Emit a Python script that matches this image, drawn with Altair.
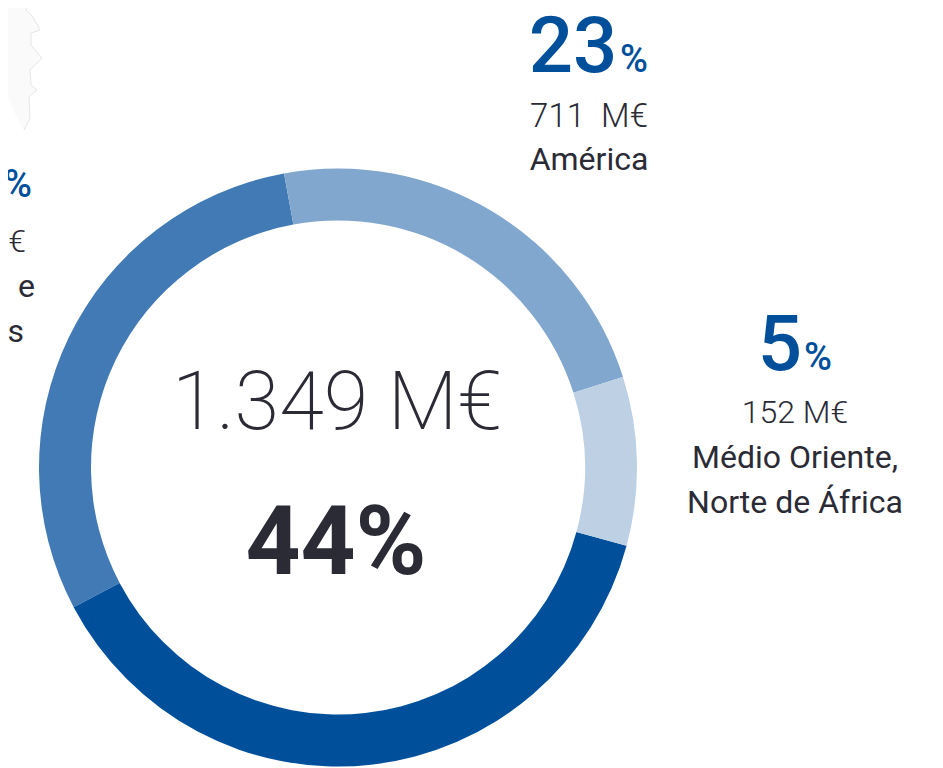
import altair as alt
import pandas as pd

# Ring: arc shares
segments = ["Ásia", "Europa", "América", "Médio Oriente, Norte de África"]
arc_shares = [29.85, 38.05, 23.0, 9.1]
seg_order = [4, 3, 1, 2]
seg_colors = ["#417ab5", "#004f9b", "#82a7ce", "#bdd0e4"]
seg_strokes = [0, 0, 0, 1.2]

BLUE = "#004f9b"
DARK = "#2b2b36"
START = -0.1815
TAU = 6.28318

# faint map fragment in the upper-left corner
map_y = [0, 10, 17, 30, 33, 45, 58, 70, 85, 90, 97, 118, 130]
map_x = [27, 26, 33, 40, 31, 31, 42, 30, 31, 37, 29, 30, 24]
map_x0 = [0, 0, 0, 0, 0, 0, 0, 0, 0, 5, 8, 17, 24]

OX, OY = 8, 8


def label(text, x, y, size, weight=400, color=DARK, align="center"):
    return alt.Chart(pd.DataFrame({"t": [text]})).mark_text(
        font="Roboto", fontSize=size, fontWeight=weight, color=color,
        align=align, baseline="alphabetic",
    ).encode(x=alt.value(x - OX), y=alt.value(y - OY), text="t:N")


xs = alt.Scale(domain=[OX, OX + 927], range=[0, 927])
ys = alt.Scale(domain=[OY, OY + 752], range=[0, 752])

mp = pd.DataFrame({"x": map_x, "x0": map_x0, "y": map_y})
map_fill = alt.Chart(mp).mark_area(color="#fafafa", orient="horizontal", clip=False).encode(
    x=alt.X("x:Q", scale=xs, axis=None),
    x2="x0:Q",
    y=alt.Y("y:Q", scale=ys, axis=None),
)
map_line = alt.Chart(mp).mark_line(color="#e6e6e6", strokeWidth=1).encode(
    x=alt.X("x:Q", scale=xs, axis=None),
    y=alt.Y("y:Q", scale=ys, axis=None),
    order="y:Q",
)

df = pd.DataFrame({"seg": segments, "share": arc_shares, "ord": seg_order})
ring = alt.Chart(df).mark_arc(radius=299, radius2=247, stroke="white").encode(
    theta=alt.Theta("share:Q", stack=True, scale=alt.Scale(range=[START, START + TAU])),
    order=alt.Order("ord:Q"),
    color=alt.Color("seg:N", legend=None,
                    scale=alt.Scale(domain=segments, range=seg_colors)),
    strokeWidth=alt.StrokeWidth("seg:N", legend=None,
                                scale=alt.Scale(domain=segments, range=seg_strokes)),
    x=alt.value(338 - OX),
    y=alt.value(467.5 - OY),
)

layers = [
    map_fill, map_line, ring,
    label("1.349 M€", 337, 429, 81, 200),
    label("44%", 336, 574, 96, 700),
    label("23", 573, 72, 78, 500, BLUE),
    label("%", 634, 72, 38, 500, BLUE),
    label("711\u00a0\u00a0M€", 589, 127, 33, 300),
    label("América", 589, 170, 32, 400),
    label("5", 780, 370, 78, 500, BLUE),
    label("%", 818, 370, 38, 500, BLUE),
    label("152 M€", 795, 423, 32, 300),
    label("Médio Oriente,", 795, 468, 32, 400),
    label("Norte de África", 795, 513, 32, 400),
    label("%", 32, 197, 38, 500, BLUE, "right"),
    label("€", 26, 252, 32, 300, DARK, "right"),
    label("e", 35, 297, 32, 400, DARK, "right"),
    label("s", 24, 342, 32, 400, DARK, "right"),
]

chart = alt.layer(*layers).properties(
    width=927, height=760, padding=0,
    autosize=alt.AutoSizeParams(type="none"),
).configure_view(stroke=None)
chart.save("out.html", embed_options={"renderer": "svg", "actions": False})
